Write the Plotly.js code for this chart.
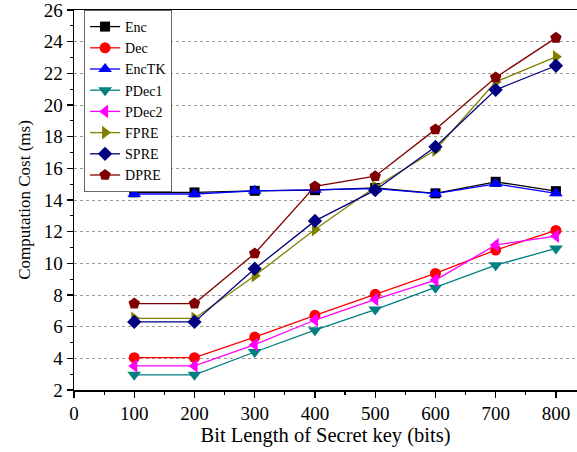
<!DOCTYPE html>
<html><head><meta charset="utf-8">
<script src="https://cdn.plot.ly/plotly-3.0.1.min.js"></script>
<style>html,body{margin:0;padding:0;background:#fff}</style>
</head><body><div id="chart" style="width:577px;height:452px"></div>
<script>
const keyBits = [100, 200, 300, 400, 500, 600, 700, 800];
const encCost    = [14.48, 14.48, 14.58, 14.62, 14.76, 14.42, 15.15, 14.56];
const decCost    = [4.04, 4.04, 5.34, 6.72, 8.04, 9.36, 10.84, 12.08];
const encTKCost  = [14.38, 14.38, 14.58, 14.64, 14.72, 14.40, 15.02, 14.42];
const pDec1Cost  = [2.96, 2.96, 4.40, 5.78, 7.08, 8.46, 9.88, 10.94];
const pDec2Cost  = [3.52, 3.52, 4.86, 6.42, 7.72, 8.94, 11.16, 11.72];
const fpreCost   = [6.52, 6.52, 9.22, 12.14, 14.82, 17.16, 21.46, 23.04];
const spreCost   = [6.30, 6.30, 9.66, 12.68, 14.62, 17.36, 20.96, 22.48];
const dpreCost   = [7.46, 7.46, 10.62, 14.86, 15.50, 18.46, 21.74, 24.24];
const seriesNames = ['Enc', 'Dec', 'EncTK', 'PDec1', 'PDec2', 'FPRE', 'SPRE', 'DPRE'];
const xTicks = [0, 100, 200, 300, 400, 500, 600, 700, 800];
const yTicks = [2, 4, 6, 8, 10, 12, 14, 16, 18, 20, 22, 24, 26];

const seriesData = [encCost, decCost, encTKCost, pDec1Cost, pDec2Cost, fpreCost, spreCost, dpreCost];
const colors = ['#000000', '#ff0000', '#0000ff', '#008080', '#ff00ff', '#808000', '#000080', '#800000'];
const symbols = ['square', 'circle', 'triangle-up', 'triangle-down', 'triangle-left', 'triangle-right', 'diamond', 'pentagon'];
const sizes = [10, 11, 12, 12, 12, 12, 11, 12];

const traces = seriesNames.map((n, i) => ({
  x: keyBits, y: seriesData[i], name: n, type: 'scatter', mode: 'lines+markers',
  line: {color: colors[i], width: 1.3},
  marker: {symbol: symbols[i], size: sizes[i], color: colors[i]}
}));

const layout = {
  width: 577, height: 452,
  margin: {l: 74, r: 0, t: 10, b: 62},
  paper_bgcolor: '#fff', plot_bgcolor: '#fff',
  font: {family: '"Liberation Serif", "Times New Roman", serif', color: '#000'},
  showlegend: true,
  legend: {x: 0.02, y: 1, xanchor: 'left', yanchor: 'top',
    bgcolor: '#fff', bordercolor: '#666', borderwidth: 1,
    font: {size: 14, family: '"Liberation Serif", serif'},
    tracegroupgap: 0},
  xaxis: {range: [0, 835], tickvals: xTicks, ticktext: xTicks.map(String),
    showgrid: false, zeroline: false, showline: true, linecolor: '#000', linewidth: 1.5,
    mirror: true, ticks: 'outside', ticklen: 6, tickwidth: 1.2, tickcolor: '#000',
    minor: {dtick: 50, tick0: 0, ticks: 'outside', ticklen: 3, tickcolor: '#000', showgrid: false},
    tickfont: {size: 19}, ticklabeloverflow: 'allow',
    title: {text: 'Bit Length of Secret key (bits)', font: {size: 20.5}, standoff: 2}},
  yaxis: {range: [2, 26], tickvals: yTicks, ticktext: yTicks.map(String),
    showgrid: true, gridcolor: '#999', griddash: 'dot', gridwidth: 1,
    zeroline: false, showline: true, linecolor: '#000', linewidth: 1.5,
    ticks: 'outside', ticklen: 6, tickwidth: 1.2, tickcolor: '#000',
    minor: {dtick: 1, tick0: 0, ticks: 'outside', ticklen: 3, tickcolor: '#000', showgrid: false},
    tickfont: {size: 19}, ticklabeloverflow: 'allow',
    title: {text: 'Computation Cost (ms)', font: {size: 17}, standoff: 9}}
};

Plotly.newPlot('chart', traces, layout, {displayModeBar: false, staticPlot: true});
</script></body></html>
